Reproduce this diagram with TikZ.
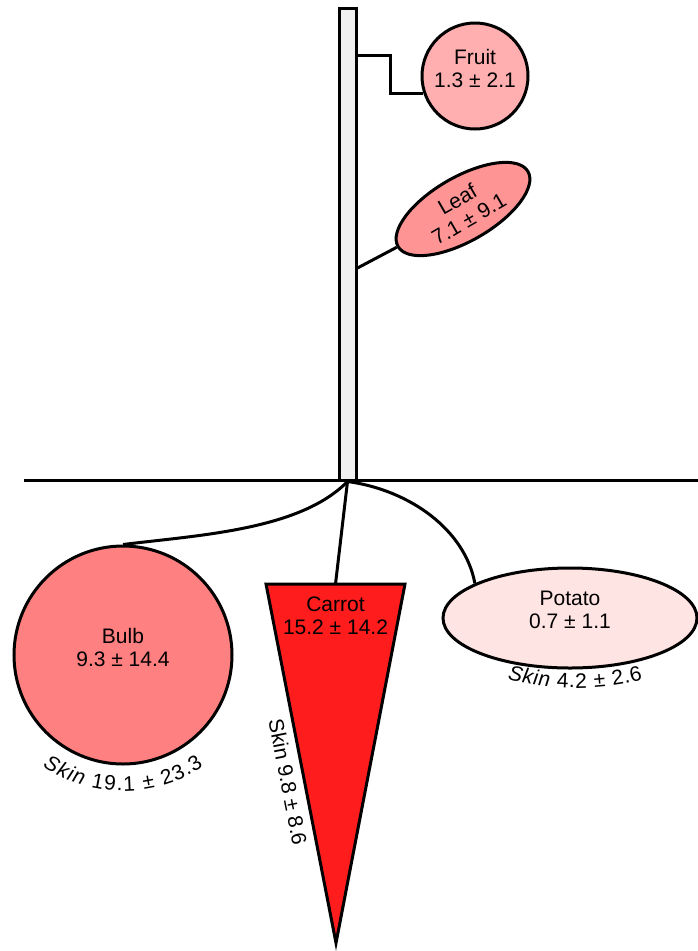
\documentclass[tikz,border=0pt]{standalone}
\usepackage{fontspec}
\setmainfont{Liberation Sans}
\usepackage{tikz}
\usetikzlibrary{calc,positioning,shapes,decorations.text}
\definecolor{stemcol}{HTML}{F0F0F0}
\definecolor{fruitcol}{HTML}{FFAFAF}
\definecolor{leafcol}{HTML}{FF9494}
\definecolor{bulbcol}{HTML}{FF8080}
\definecolor{carrotcol}{HTML}{FF1C1C}
\definecolor{potatocol}{HTML}{FFE4E4}
\newcommand{\skinfont}{\fontsize{21}{23}\selectfont}

\begin{document}
\begin{tikzpicture}[x=1pt,y=-1pt,line width=3pt,
	organ/.style={draw,align=center,inner sep=0pt,font=\skinfont,text depth=16pt},
	skin/.style={decorate,decoration={text along path,text align=fit to path,text={#1}}}]
	\useasboundingbox (0,0) rectangle (698,951);
	% ground and stem
	\draw (24,480) -- (698,480);
	\node(stem) [draw,fill=stemcol,inner sep=0pt,minimum width=17pt,minimum height=472pt] at (347.5,244) {};
	\coordinate(root) at (stem.south);
	% above ground
	\node(fruit) [organ,circle,fill=fruitcol,minimum size=106pt] at (475,76) {Fruit\\1.3 ± 2.1};
	\node(leaf) [organ,ellipse,fill=leafcol,text depth=0pt,rotate=30,minimum width=150pt,minimum height=64pt] at (463,209) {Leaf\\7.1 ± 9.1};
	\draw (fruit.199) -- ++(-33,0) |- ($(stem.north east)+(0,49)$);
	\draw ([yshift=-24pt]stem.east) -- (leaf.west);
	% below ground
	\node(bulb) [organ,circle,fill=bulbcol,minimum size=218pt] at (123,655) {Bulb\\9.3 ± 14.4};
	\coordinate(c1) at (266,584);
	\coordinate(c2) at (405,584);
	\coordinate(c3) at (336,943);
	\coordinate(ctop) at ($(c1)!0.5!(c2)$);
	\draw[fill=carrotcol] (c1) -- (c2) -- (c3) -- cycle;
	\node(carrot) [font=\skinfont,align=center,anchor=north] at ($(ctop)+(0,8)$) {Carrot\\15.2 ± 14.2};
	\node(potato) [organ,ellipse,fill=potatocol,minimum width=254pt,minimum height=100pt] at (570,618) {Potato\\0.7 ± 1.1};
	\draw (root) .. controls (300,530) and (200,535) .. (bulb.north);
	\draw (root) -- (ctop);
	\draw (root) .. controls (410,490) and (465,530) .. (potato.160);
	% skin values
	\path[skin={|\skinfont\itshape|Skin|\skinfont| 19.1 ± 23.3}] ($(bulb.center)+(0,-8)+(124:144)$) arc[start angle=124,end angle=56,radius=144];
	\path[skin={|\skinfont\itshape|Skin|\skinfont| 4.2 ± 2.6}] ($(potato.center)+(5,-210)+(104:280)$) arc[start angle=104,end angle=76,radius=280];
	\node(cskin) [font=\skinfont,rotate=-79] at (288,782) {Skin 9.8 ± 8.6};
\end{tikzpicture}
\end{document}
